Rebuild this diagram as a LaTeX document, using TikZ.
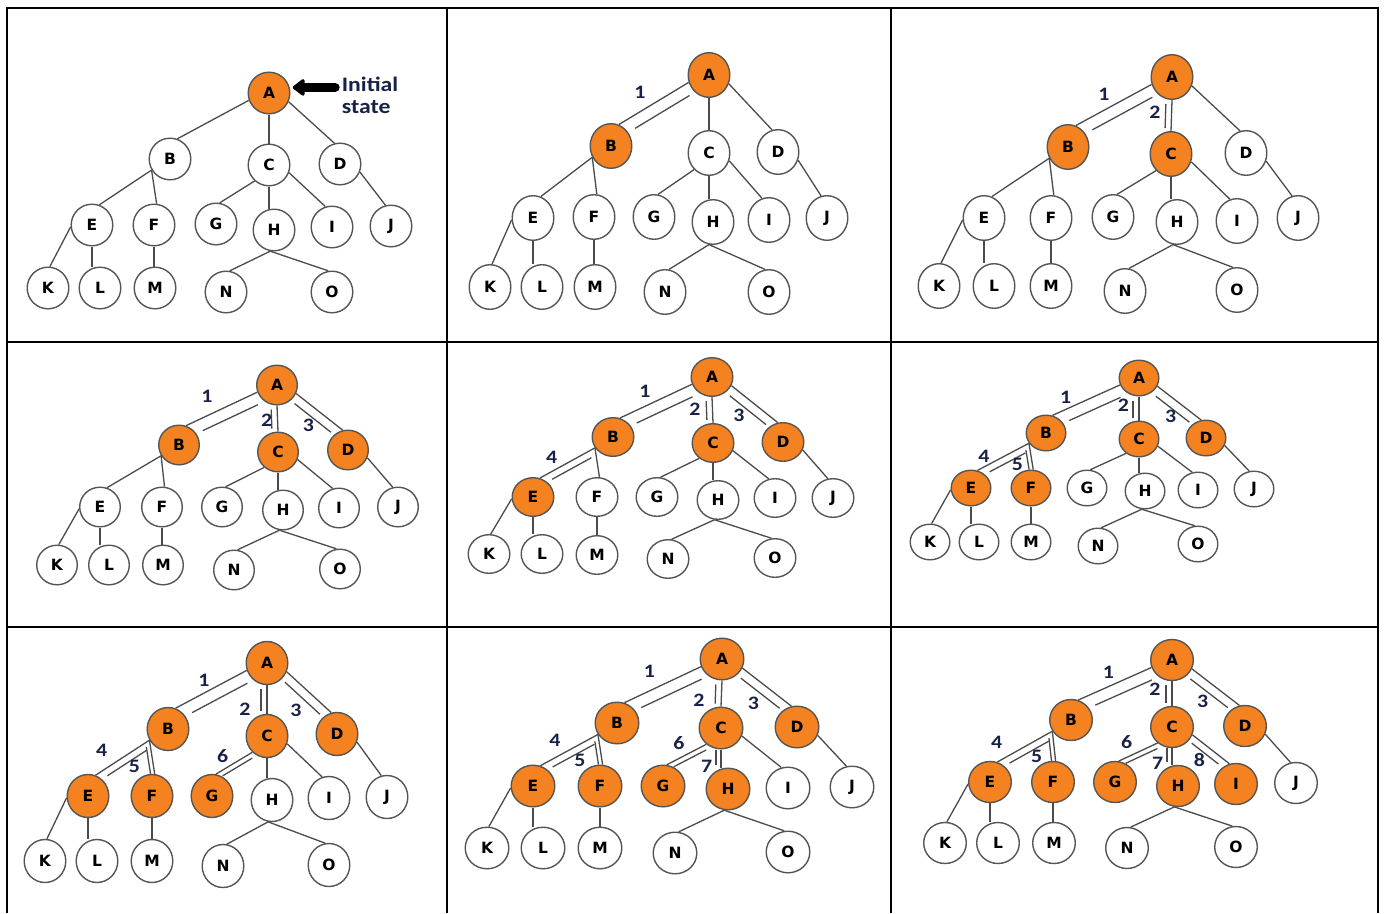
\documentclass[tikz,border=0pt]{standalone}
\usepackage{fontspec}
\usetikzlibrary{shapes.geometric,arrows.meta}
\newfontfamily\ndfont{DejaVu Sans}
\newfontfamily\lbfont{Carlito}[FakeStretch=1.15]
\definecolor{orangefill}{RGB}{245,130,32}
\colorlet{vis}{orangefill}
\colorlet{unv}{white}
\definecolor{edgecol}{RGB}{75,75,75}
\definecolor{nodeborder}{RGB}{85,85,85}
\definecolor{navy}{RGB}{24,34,72}
\pgfdeclarelayer{edgelayer}
\pgfsetlayers{edgelayer,main}
\tikzset{
  nd/.style={ellipse, draw=nodeborder, line width=1.4pt, inner sep=0pt,
    font=\ndfont\bfseries\fontsize{15.5}{15.5}\selectfont, text=black},
  edge/.style={draw=edgecol, line width=1.3pt},
  num/.style={font=\lbfont\bfseries\fontsize{19}{19}\selectfont, text=navy, inner sep=0pt},
  initlbl/.style={font=\lbfont\bfseries\fontsize{20.6}{21.7}\selectfont, text=navy, inner sep=0pt, align=left},
  initarrow/.style={line width=9pt, line cap=round, -{Triangle[round,length=13pt,width=19pt]}},
  gridline/.style={line width=2pt, draw=black},
}
\newcommand\mktree[4]{\foreach \n/\x/\y/\f in {#4}{\node[nd, fill=\f, minimum width=#2pt, minimum height=#3pt] (#1\n) at (\x,\y) {\n};}}
\newcommand\mainedges[1]{%
  \coordinate (#1CHe) at (#1C.south |- #1H.north);
  \coordinate (#1ELe) at (#1E.south |- #1L.north);
  \coordinate (#1FMe) at (#1F.south |- #1M.north);
  \draw[edge] (#1A.200) -- (#1B.70);
  \draw[edge] (#1A.south) -- (#1C.north);
  \draw[edge] (#1A.336) -- (#1D.105);
  \draw[edge] (#1B.211) -- (#1E.70);
  \draw[edge] (#1B.211) -- (#1F.83);
  \draw[edge] (#1C.228) -- (#1G.80);
  \draw[edge] (#1C.south) -- (#1CHe);
  \draw[edge] (#1C.339) -- (#1I.108);
  \draw[edge] (#1D.338) -- (#1J.105);
  \draw[edge] (#1E.185) -- (#1K.85);
  \draw[edge] (#1E.south) -- (#1ELe);
  \draw[edge] (#1F.south) -- (#1FMe);
  \draw[edge] (#1H.260) -- (#1N.80);
  \draw[edge] (#1H.260) -- (#1O.100);
}
\newcommand\dline[5]{\draw[edge,shorten <=#4pt,shorten >=#5pt] ([shift={#3}]#1) -- ([shift={#3}]#2);}
\newcommand\vAB[1]{\dline{#1A.200}{#1B.70}{(6,10)}{6}{12}}
\newcommand\vAC[1]{\dline{#1A.south}{#1C.north}{(-6,0)}{4}{3}}
\newcommand\vAD[1]{\dline{#1A.336}{#1D.105}{(-5.5,7)}{5}{8}}
\newcommand\vBE[1]{\dline{#1B.211}{#1E.70}{(3.5,6)}{8}{10}}
\newcommand\vBF[1]{\dline{#1B.211}{#1F.83}{(-4,1)}{6}{1}}
\newcommand\vCG[1]{\dline{#1C.228}{#1G.80}{(2.5,4.3)}{3}{5}}
\newcommand\vCH[1]{\dline{#1C.south}{#1CHe}{(-5,0)}{0}{3}}
\newcommand\vCI[1]{\dline{#1C.339}{#1I.108}{(-4.7,5.2)}{5}{8}}
\begin{document}
\begin{tikzpicture}[x=1pt,y=-1pt]
\useasboundingbox (0,0) rectangle (1386,913);
\begin{pgfonlayer}{edgelayer}
\fill[white] (0,0) rectangle (1386,913);
\end{pgfonlayer}
% table grid
\draw[gridline] (7,913) -- (7,7.5) -- (1378,7.5) -- (1378,913);
\draw[gridline] (447,7.5) -- (447,913);
\draw[gridline] (891,7.5) -- (891,913);
\draw[gridline] (7,341.7) -- (1378,341.7);
\draw[gridline] (7,626.7) -- (1378,626.7);

% ---------- panel 1
\mktree{p1}{41.6}{41.6}{A/269/93/vis, B/170/159/unv, C/269/165/unv, D/340/164/unv, E/92/225/unv, F/154/225/unv, G/216/224/unv, H/274/230/unv, I/332/227/unv, J/391/226/unv, K/48/288/unv, L/100/288/unv, M/155/288/unv, N/226/292/unv, O/332/292/unv}
\begin{pgfonlayer}{edgelayer}\mainedges{p1}\end{pgfonlayer}
\node[initlbl, anchor=west] (init) at (341.7,95.3) {Initial\\state};
\draw[initarrow, shorten <=6.5pt, shorten >=3pt] (init.west |- p1A.15) -- (p1A.15);

% ---------- panel 2
\mktree{p2}{41.6}{44.6}{A/709/75/vis, B/611/146/vis, C/709/153/unv, D/778/152/unv, E/533/218/unv, F/594/217/unv, G/654/217/unv, H/713/222/unv, I/769/220/unv, J/827/218/unv, K/490/287/unv, L/542/287/unv, M/595/287/unv, N/665/292/unv, O/769/292/unv}
\begin{pgfonlayer}{edgelayer}\mainedges{p2}\vAB{p2}\end{pgfonlayer}
\node[num] (p2n1) at (640,92) {1};

% ---------- panel 3
\mktree{p3}{41.6}{44.6}{A/1172/77/vis, B/1068/147/vis, C/1171/154/vis, D/1246/153/unv, E/984/218/unv, F/1051/218/unv, G/1113/217/unv, H/1177/222/unv, I/1237/221/unv, J/1298/218/unv, K/939/286/unv, L/994/286/unv, M/1051/286/unv, N/1125/291/unv, O/1237/290/unv}
\begin{pgfonlayer}{edgelayer}\mainedges{p3}\vAB{p3}\vAC{p3}\end{pgfonlayer}
\node[num] (p3n1) at (1104,94) {1};
\node[num] (p3n2) at (1155,112) {2};

% ---------- panel 4
\mktree{p4}{40.6}{39.6}{A/277/385/vis, B/179/445/vis, C/278/452/vis, D/348/450/vis, E/100/507/unv, F/162/507/unv, G/222/507/unv, H/283/510/unv, I/339/508/unv, J/398/507/unv, K/57/565/unv, L/109/565/unv, M/163/565/unv, N/234/570/unv, O/340/569/unv}
\begin{pgfonlayer}{edgelayer}\mainedges{p4}\vAB{p4}\vAC{p4}\vAD{p4}\end{pgfonlayer}
\node[num] (p4n1) at (207,396) {1};
\node[num] (p4n2) at (266.7,420) {2};
\node[num] (p4n3) at (308.3,425.7) {3};

% ---------- panel 5
\mktree{p5}{41.6}{38.6}{A/712/377/vis, B/613/437/vis, C/713/443/vis, D/783/442/vis, E/533/497/vis, F/597/497/unv, G/657/497/unv, H/718/500/unv, I/775/498/unv, J/833/498/unv, K/489/554/unv, L/542/554/unv, M/597/555/unv, N/668/559/unv, O/775/558/unv}
\begin{pgfonlayer}{edgelayer}\mainedges{p5}\vAB{p5}\vAC{p5}\vAD{p5}\vBE{p5}\end{pgfonlayer}
\node[num] (p5n1) at (645,391) {1};
\node[num] (p5n2) at (695,409) {2};
\node[num] (p5n3) at (739,415) {3};
\node[num] (p5n4) at (551.7,457.7) {4};

% ---------- panel 6
\mktree{p6}{39.6}{35.6}{A/1139/378/vis, B/1046/433/vis, C/1139/439/vis, D/1206/438/vis, E/971/488/vis, F/1031/488/vis, G/1087/488/unv, H/1145/491/unv, I/1198/490/unv, J/1254/489/unv, K/930/542/unv, L/979/542/unv, M/1031/542/unv, N/1098/546/unv, O/1198/544/unv}
\begin{pgfonlayer}{edgelayer}\mainedges{p6}\vAB{p6}\vAC{p6}\vAD{p6}\vBE{p6}\vBF{p6}\end{pgfonlayer}
\node[num] (p6n1) at (1065.7,397.3) {1};
\node[num] (p6n2) at (1123.3,405.7) {2};
\node[num] (p6n3) at (1170.7,416.7) {3};
\node[num] (p6n4) at (984,456.7) {4};
\node[num] (p6n5) at (1017.3,464.3) {5};

% ---------- panel 7
\mktree{p7}{41.6}{43}{A/267/663/vis, B/168/729/vis, C/267/736/vis, D/337/734/vis, E/88/796/vis, F/152/796/vis, G/212/796/vis, H/272/800/unv, I/329/798/unv, J/387/797/unv, K/45/861/unv, L/97/861/unv, M/152/861/unv, N/223/866/unv, O/329/865/unv}
\begin{pgfonlayer}{edgelayer}\mainedges{p7}\vAB{p7}\vAC{p7}\vAD{p7}\vBE{p7}\vBF{p7}\vCG{p7}\end{pgfonlayer}
\node[num] (p7n1) at (204,680.7) {1};
\node[num] (p7n2) at (245,709.3) {2};
\node[num] (p7n3) at (296,710.7) {3};
\node[num] (p7n4) at (101.7,750.7) {4};
\node[num] (p7n5) at (134.3,766.7) {5};
\node[num] (p7n6) at (222.7,756) {6};

% ---------- panel 8
\mktree{p8}{43.6}{41.6}{A/722/659/vis, B/617/723/vis, C/721/728/vis, D/797/727/vis, E/533/786/vis, F/600/786/vis, G/663/786/vis, H/728/789/vis, I/788/788/unv, J/852/787/unv, K/487/848/unv, L/543/848/unv, M/600/848/unv, N/675/853/unv, O/788/852/unv}
\begin{pgfonlayer}{edgelayer}\mainedges{p8}\vAB{p8}\vAC{p8}\vAD{p8}\vBE{p8}\vBF{p8}\vCG{p8}\vCH{p8}\end{pgfonlayer}
\node[num] (p8n1) at (649.3,671.7) {1};
\node[num] (p8n2) at (699,700) {2};
\node[num] (p8n3) at (753.3,703.3) {3};
\node[num] (p8n4) at (555,740) {4};
\node[num] (p8n5) at (580,760) {5};
\node[num] (p8n6) at (679,743.3) {6};
\node[num] (p8n7) at (706.7,766) {7};

% ---------- panel 9
\mktree{p9}{42.6}{41}{A/1172/660/vis, B/1071/720/vis, C/1172/727/vis, D/1245/726/vis, E/990/782/vis, F/1053/782/vis, G/1115/782/vis, H/1178/786/vis, I/1236/784/vis, J/1296/783/unv, K/945/843/unv, L/998/843/unv, M/1054/843/unv, N/1127/848/unv, O/1236/847/unv}
\begin{pgfonlayer}{edgelayer}\mainedges{p9}\vAB{p9}\vAC{p9}\vAD{p9}\vBE{p9}\vBF{p9}\vCG{p9}\vCH{p9}\vCI{p9}\end{pgfonlayer}
\node[num] (p9n1) at (1108.3,672.3) {1};
\node[num] (p9n2) at (1155,689.3) {2};
\node[num] (p9n3) at (1202.7,701.7) {3};
\node[num] (p9n4) at (996.7,742.3) {4};
\node[num] (p9n5) at (1036.7,756) {5};
\node[num] (p9n6) at (1126.7,742.3) {6};
\node[num] (p9n7) at (1157.7,763.3) {7};
\node[num] (p9n8) at (1199.3,760) {8};
\end{tikzpicture}
\end{document}
